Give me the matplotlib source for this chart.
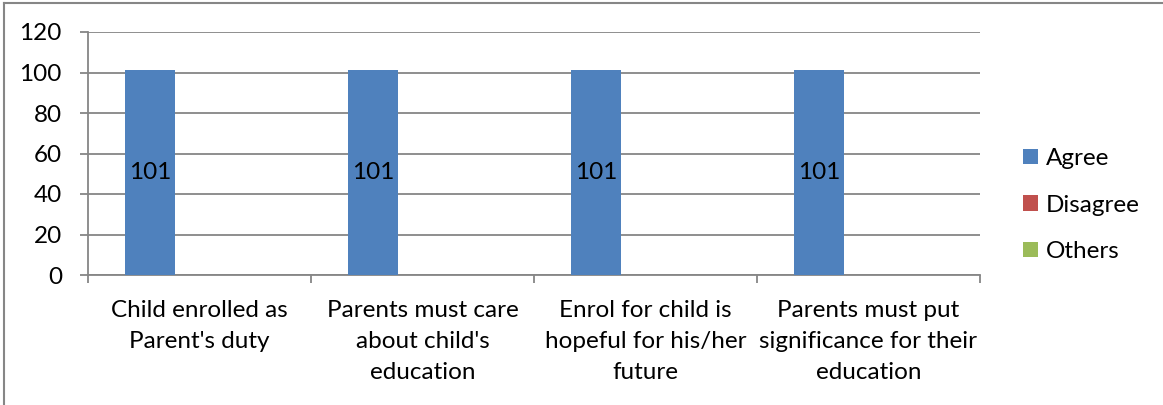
import numpy as np
import matplotlib
matplotlib.use('Agg')
import matplotlib.pyplot as plt
from matplotlib.lines import Line2D
from matplotlib.patches import Patch

plt.rcParams['font.family'] = ['Lato', 'DejaVu Sans']

categories = ["Child enrolled as\nParent's duty",
              "Parents must care\nabout child's\neducation",
              "Enrol for child is\nhopeful for his/her\nfuture",
              "Parents must put\nsignificance for their\neducation"]
series = ['Agree', 'Disagree', 'Others']
agree = [101, 101, 101, 101]
disagree = [0, 0, 0, 0]
others = [0, 0, 0, 0]
colors = ['#4F81BD', '#C0504D', '#9BBB59']
yticks = [0, 20, 40, 60, 80, 100, 120]

fs = 17.5
W, H = 1163, 405
fig = plt.figure(figsize=(W/100, H/100), dpi=100)
ax = fig.add_axes([88/W, (H-275)/H, (980-88)/W, (275-32)/H])

x = np.arange(len(categories))
w = 1/4.5
for j, (vals, c) in enumerate(zip([agree, disagree, others], colors)):
    bars = ax.bar(x + (j-1)*w, vals, width=w, color=c, zorder=3)
    for b, v in zip(bars, vals):
        if v > 0:
            ax.text(b.get_x() + b.get_width()/2, v/2, str(v), ha='center', va='center',
                    fontsize=fs, zorder=4)

grid = '#868686'
ax.set_xlim(-0.5, len(categories)-0.5)
ax.set_ylim(0, 120)
ax.set_yticks(yticks)
ax.set_yticklabels([str(t) for t in yticks], fontsize=fs)
ax.yaxis.grid(True, color=grid, lw=1.3, zorder=0)
for s in ['top', 'right']:
    ax.spines[s].set_visible(False)
for s in ['left', 'bottom']:
    ax.spines[s].set_color(grid)
    ax.spines[s].set_linewidth(1.3)
ax.tick_params(axis='y', length=5.8, width=1.3, color=grid, pad=13)

ax.set_xticks(x)
ax.set_xticklabels(categories, fontsize=fs, linespacing=1.6)
ax.tick_params(axis='x', which='major', length=0, pad=18)
ax.set_xticks(np.arange(len(categories)+1) - 0.5, minor=True)
ax.tick_params(axis='x', which='minor', length=5.8, width=1.3, color=grid)

handles = [Patch(facecolor=c, label=s) for s, c in zip(series, colors)]
fig.legend(handles=handles, loc='center left', bbox_to_anchor=(1023/W, (H-205)/H),
           frameon=False, fontsize=fs, handlelength=0.6, handleheight=0.6,
           handletextpad=0.35, labelspacing=1.05, borderpad=0, borderaxespad=0)

# chart border (top and left visible)
fig.add_artist(Line2D([4/W, 1], [1-2.5/H, 1-2.5/H], color=grid, lw=1.5))
fig.add_artist(Line2D([4/W, 4/W], [0, 1-2.5/H], color=grid, lw=1.5))

fig.savefig('out.png', dpi=100)
